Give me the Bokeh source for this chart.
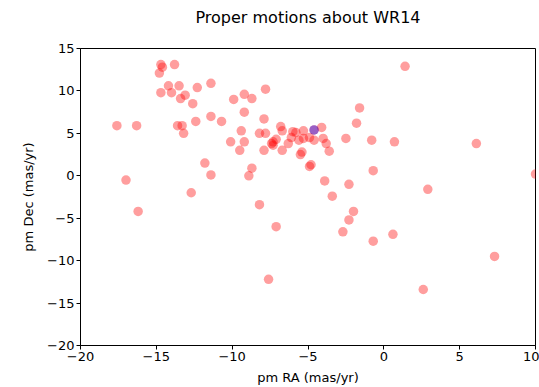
from bokeh.plotting import figure
from bokeh.models import FixedTicker, Range1d, LinearAxis
from bokeh.embed import file_html
from bokeh.resources import INLINE

ra = [-17.6, -16.3, -17.0, -16.2,
      -14.7, -14.6, -14.8, -13.8,
      -14.7, -14.2, -14.0, -13.5, -13.4, -13.1, -12.6, -12.3, -11.4,
      -13.6, -13.3, -13.2, -12.4, -11.4, -10.7,
      -11.8, -11.4, -12.7,
      -9.9, -9.2, -8.7, -7.8, -9.2, -7.9,
      -9.4, -10.1, -9.2, -9.5, -8.2, -7.8, -7.9,
      -8.7, -8.9, -8.2, -7.1, -7.6,
      -6.8, -6.7, -7.3, -7.3, -7.1, -7.4, -6.7, -6.3,
      -6.0, -5.8, -5.3, -4.9, -5.5, -5.4, -4.9, -4.8, -6.1, -5.6, -5.3,
      -4.1, -4.6, -4.6, -4.0, -3.8, -3.6, -2.5, -0.8, 0.7, 6.1,
      1.4, -1.6, -1.8,
      -0.7, -3.9, -2.3, 2.9, -3.4, 10.0,
      -2.0, -2.3, -2.7, -0.7, 0.6, 7.3, 2.6]
dec = [5.9, 5.9, -0.5, -4.2,
       13.1, 12.8, 12.1, 13.1,
       9.8, 10.6, 9.8, 10.6, 9.1, 9.5, 8.5, 10.4, 10.9,
       5.9, 5.9, 5.0, 6.4, 7.0, 6.4,
       1.5, 0.1, -2.0,
       9.0, 9.6, 9.1, 10.2, 7.5, 6.7,
       5.3, 4.0, 4.0, 3.0, 5.0, 5.0, 3.0,
       0.9, 0.0, -3.4, -6.0, -12.2,
       5.8, 5.3, 4.0, 3.6, 4.3, 3.8, 3.0, 3.8,
       5.2, 5.1, 5.3, 4.5, 2.5, 2.8, 1.1, 1.3, 4.5, 4.2, 4.4,
       5.7, 5.4, 4.2, 4.4, 3.8, 2.9, 4.4, 4.2, 4.0, 3.8,
       12.9, 8.0, 6.2,
       0.6, -0.6, -1.0, -1.6, -2.4, 0.2,
       -4.2, -5.2, -6.6, -7.7, -6.9, -9.5, -13.4]

star_ra = [-4.6]
star_dec = [5.4]

x_ticks = [-20, -15, -10, -5, 0, 5, 10]
y_ticks = [-20, -15, -10, -5, 0, 5, 10, 15]
title_text = "Proper motions about WR14"

def lab(v):
    return ("\u2212" + str(abs(v))) if v < 0 else str(v)

p = figure(width=539, height=387, output_backend="svg", toolbar_location=None,
           x_range=Range1d(-20, 10), y_range=Range1d(-20, 15),
           min_border_left=80, min_border_right=4, min_border_top=48, min_border_bottom=42)

bx = p.below[0]
ly = p.left[0]

# title drawn as the label of a bare axis above the frame
top = LinearAxis(ticker=FixedTicker(ticks=[]), axis_label=title_text)
top.axis_line_color = None
top.major_tick_line_color = None
top.minor_tick_line_color = None
top.major_label_text_font_size = "0px"
top.axis_label_text_font = "DejaVu Sans"
top.axis_label_text_font_size = "16px"
top.axis_label_text_font_style = "normal"
top.axis_label_text_color = "black"
top.axis_label_standoff = 22
p.add_layout(top, "above")

p.scatter(ra, dec, size=9.5, fill_color="red", fill_alpha=0.38, line_color=None)
p.scatter(star_ra, star_dec, size=9.5, fill_color="blue", fill_alpha=0.4, line_color=None)

p.xgrid.visible = False
p.ygrid.visible = False
p.outline_line_color = "black"
p.outline_line_width = 1
p.outline_line_alpha = 1
p.background_fill_color = "white"
p.border_fill_color = "white"

bx.ticker = FixedTicker(ticks=x_ticks)
ly.ticker = FixedTicker(ticks=y_ticks)
bx.major_label_overrides = {v: lab(v) for v in x_ticks}
ly.major_label_overrides = {v: lab(v) for v in y_ticks}
bx.axis_label = "pm RA (mas/yr)"
ly.axis_label = "pm Dec (mas/yr)"
for ax in (bx, ly):
    ax.minor_tick_line_color = None
    ax.major_tick_in = 0
    ax.major_tick_out = 4
    ax.major_tick_line_color = "black"
    ax.axis_line_color = "black"
    ax.major_label_text_font = "DejaVu Sans"
    ax.major_label_text_font_size = "13px"
    ax.major_label_text_color = "black"
    ax.axis_label_text_font = "DejaVu Sans"
    ax.axis_label_text_font_size = "13px"
    ax.axis_label_text_font_style = "normal"
    ax.axis_label_text_color = "black"
    ax.major_label_standoff = 2
bx.axis_label_standoff = 6
ly.axis_label_standoff = 8

open("out.html", "w").write(file_html(p, INLINE))
